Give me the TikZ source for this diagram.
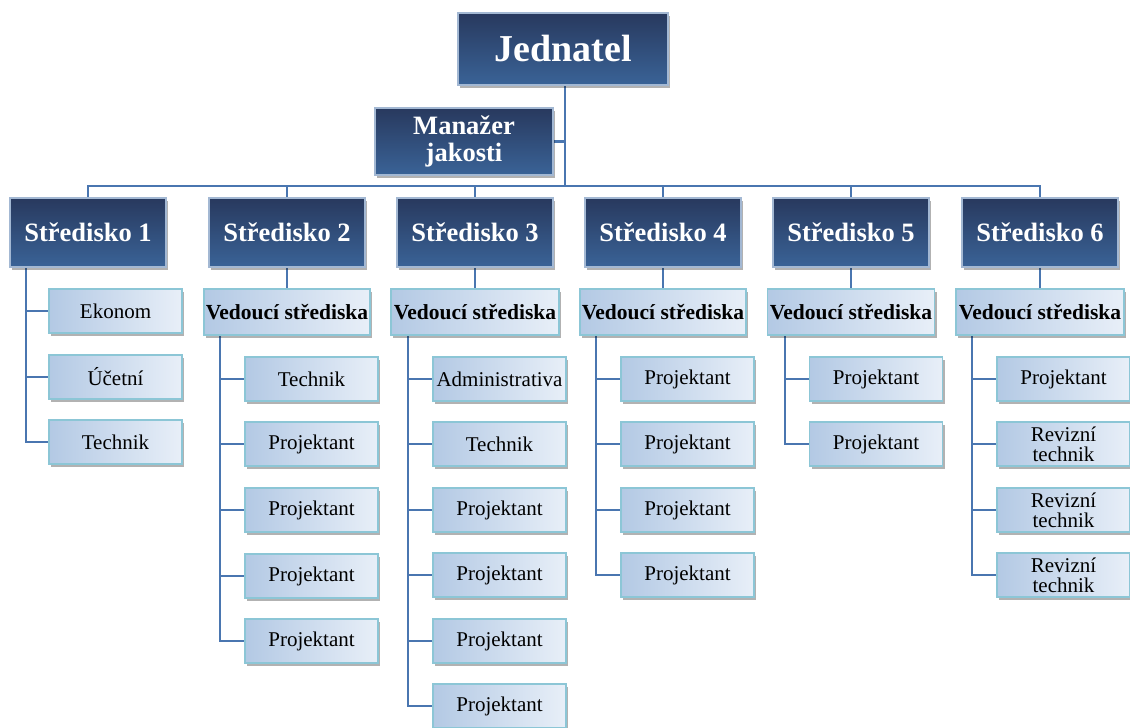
\documentclass[tikz,border=0pt]{standalone}
\usepackage{fontspec}
\setmainfont{Liberation Serif}
\usetikzlibrary{shadows,backgrounds}
\definecolor{headtop}{HTML}{28395E}
\definecolor{headbot}{HTML}{3A6397}
\definecolor{headrim}{HTML}{A3B8D3}
\definecolor{subleft}{HTML}{B3C9E4}
\definecolor{subright}{HTML}{E8EFF8}
\definecolor{subrim}{HTML}{8CC6D6}
\definecolor{link}{HTML}{4A76B0}
\tikzset{
  head/.style={rectangle, draw=headrim, line width=1.6pt, top color=headtop, bottom color=headbot,
    text=white, font=\bfseries, inner sep=0pt, align=center,
    drop shadow={shadow xshift=2pt, shadow yshift=-3pt, opacity=0.3, fill=black}},
  sub/.style={rectangle, draw=subrim, line width=1.6pt, left color=subleft, right color=subright,
    text=black, inner sep=0pt, align=center, minimum width=133pt, minimum height=44pt,
    font=\fontsize{21}{20}\selectfont,
    drop shadow={shadow xshift=2pt, shadow yshift=-3pt, opacity=0.3, fill=black}},
  lead/.style={sub, minimum width=166pt, minimum height=46pt, font=\fontsize{21.5}{22}\bfseries\selectfont},
  centre/.style={head, minimum width=156pt, minimum height=69pt, font=\fontsize{26.5}{27}\bfseries\selectfont},
  link/.style={draw=link, line width=2.3pt}
}
\begin{document}
\begin{tikzpicture}[x=1pt,y=-1pt]
\useasboundingbox (0,0) rectangle (1130,728);

% top management
\node[head, minimum width=210pt, minimum height=72pt, font=\fontsize{38}{40}\bfseries\selectfont] (j) at (563,49) {Jednatel};
\node[head, minimum width=178pt, minimum height=67pt, font=\fontsize{26.5}{27}\bfseries\selectfont] (m) at (464,141.5) {Manažer\\jakosti};
\coordinate (bus) at (565,186);

% centres
\node[centre] (s1) at (88,232.5) {Středisko 1};
\node[centre] (s2) at (287,232.5) {Středisko 2};
\node[centre] (s3) at (475,232.5) {Středisko 3};
\node[centre] (s4) at (663,232.5) {Středisko 4};
\node[centre] (s5) at (851,232.5) {Středisko 5};
\node[centre] (s6) at (1040,232.5) {Středisko 6};

% heads of centres
\node[lead] (v2) at (287,312) {Vedoucí střediska};
\node[lead, minimum width=168pt] (v3) at (475,312) {Vedoucí střediska};
\node[lead] (v4) at (663,312) {Vedoucí střediska};
\node[lead, minimum width=167pt] (v5) at (851,312) {Vedoucí střediska};
\node[lead, minimum width=168pt] (v6) at (1040,312) {Vedoucí střediska};

% staff of centre 1
\node[sub] (a1) at (115.5,311) {Ekonom};
\node[sub] (a2) at (115.5,377) {Účetní};
\node[sub] (a3) at (115.5,442) {Technik};

% staff of centre 2
\node[sub] (b1) at (311.5,379) {Technik};
\node[sub] (b2) at (311.5,444) {Projektant};
\node[sub] (b3) at (311.5,510) {Projektant};
\node[sub] (b4) at (311.5,576) {Projektant};
\node[sub] (b5) at (311.5,641) {Projektant};

% staff of centre 3
\node[sub] (c1) at (499.5,379) {Administrativa};
\node[sub] (c2) at (499.5,444) {Technik};
\node[sub] (c3) at (499.5,510) {Projektant};
\node[sub] (c4) at (499.5,575) {Projektant};
\node[sub] (c5) at (499.5,641) {Projektant};
\node[sub] (c6) at (499.5,706) {Projektant};

% staff of centre 4
\node[sub] (d1) at (687.5,379) {Projektant};
\node[sub] (d2) at (687.5,444) {Projektant};
\node[sub] (d3) at (687.5,510) {Projektant};
\node[sub] (d4) at (687.5,575) {Projektant};

% staff of centre 5
\node[sub] (e1) at (876,379) {Projektant};
\node[sub] (e2) at (876,444) {Projektant};

% staff of centre 6
\node[sub] (f1) at (1063.5,379) {Projektant};
\node[sub] (f2) at (1063.5,444) {Revizní\\technik};
\node[sub] (f3) at (1063.5,510) {Revizní\\technik};
\node[sub] (f4) at (1063.5,575) {Revizní\\technik};

% connectors, kept behind the boxes
\begin{pgfonlayer}{background}
\fill[white] (0,0) rectangle (1130,728);
\draw[link] (j.south -| bus) -- (bus);
\draw[link] (m.east) -- (m.east -| bus);
\draw[link] (s1.north) |- (bus) -| (s6.north);
\foreach \s in {s2,s3,s4,s5} \draw[link] (\s.north) -- (\s.north |- bus);
\foreach \s in {2,3,4,5,6} \draw[link] (s\s.south) -- (v\s.north);
% centre 1 spine
\draw[link] ([xshift=17pt]s1.south west) |- (a3.west);
\foreach \n in {a1,a2} \draw[link] ([xshift=17pt]s1.south west |- \n.west) -- (\n.west);
% centre 2 spine
\draw[link] ([xshift=17pt]v2.south west) |- (b5.west);
\foreach \n in {b1,b2,b3,b4} \draw[link] ([xshift=17pt]v2.south west |- \n.west) -- (\n.west);
% centre 3 spine
\draw[link] ([xshift=18pt]v3.south west) |- (c6.west);
\foreach \n in {c1,c2,c3,c4,c5} \draw[link] ([xshift=18pt]v3.south west |- \n.west) -- (\n.west);
% centre 4 spine
\draw[link] ([xshift=17pt]v4.south west) |- (d4.west);
\foreach \n in {d1,d2,d3} \draw[link] ([xshift=17pt]v4.south west |- \n.west) -- (\n.west);
% centre 5 spine
\draw[link] ([xshift=18pt]v5.south west) |- (e2.west);
\draw[link] ([xshift=18pt]v5.south west |- e1.west) -- (e1.west);
% centre 6 spine
\draw[link] ([xshift=17pt]v6.south west) |- (f4.west);
\foreach \n in {f1,f2,f3} \draw[link] ([xshift=17pt]v6.south west |- \n.west) -- (\n.west);
\end{pgfonlayer}
\end{tikzpicture}
\end{document}
